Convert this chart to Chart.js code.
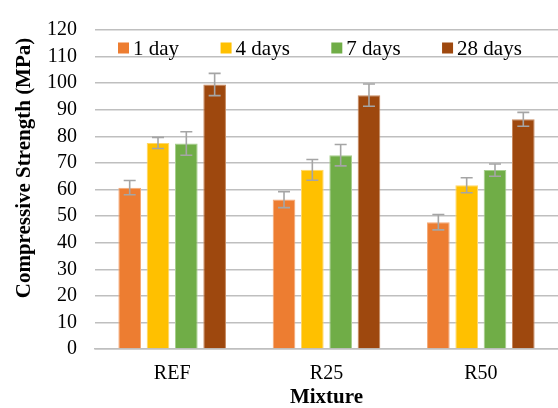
<!DOCTYPE html>
<html>
<head>
<meta charset="utf-8">
<script src="https://cdn.jsdelivr.net/npm/chart.js@4.4.1/dist/chart.umd.min.js"></script>
<style>
  html, body { margin: 0; padding: 0; background: #ffffff; }
  #wrap { width: 558px; height: 408px; }
</style>
</head>
<body>
<div id="wrap"><canvas id="c" width="558" height="408"></canvas></div>
<script>
// Mixtures and curing ages
const mixtures = ['REF', 'R25', 'R50'];
const ages = ['1 day', '4 days', '7 days', '28 days'];

// Mean compressive strength (MPa) per age, one value per mixture
const day1 = [60.7, 56.2, 47.7];
const day4 = [77.5, 67.4, 61.6];
const day7 = [77.3, 72.9, 67.3];
const day28 = [99.5, 95.5, 86.4];

// Standard deviation (MPa) for each mean above
const sd1 = [2.7, 3.0, 2.9];
const sd4 = [2.1, 3.9, 2.8];
const sd7 = [4.4, 4.0, 2.3];
const sd28 = [4.2, 4.2, 2.6];

// Y axis ticks
const yTicks = [0, 10, 20, 30, 40, 50, 60, 70, 80, 90, 100, 110, 120];

const fills = ['#ED7D31', '#FFC000', '#70AD47', '#9E480E'];
const edges = ['#F4A977', '#FFD766', '#A6CE8C', '#C88A60'];
const means = [day1, day4, day7, day28];
const devs = [sd1, sd4, sd7, sd28];

const serif = "'Liberation Serif', 'Times New Roman', serif";

// Error bars with caps, placed through the chart scales
const errorBars = {
  id: 'errorBars',
  afterDatasetsDraw(chart) {
    const ctx = chart.ctx;
    const y = chart.scales.y;
    ctx.save();
    ctx.strokeStyle = '#A5A5A5';
    ctx.lineWidth = 1.6;
    chart.data.datasets.forEach((ds, di) => {
      const meta = chart.getDatasetMeta(di);
      meta.data.forEach((bar, i) => {
        const v = ds.data[i];
        const e = devs[di][i];
        const yt = y.getPixelForValue(v + e);
        const yb = y.getPixelForValue(v - e);
        const x = bar.x;
        const cap = 6;
        ctx.beginPath();
        ctx.moveTo(x, yt); ctx.lineTo(x, yb);
        ctx.moveTo(x - cap, yt); ctx.lineTo(x + cap, yt);
        ctx.moveTo(x - cap, yb); ctx.lineTo(x + cap, yb);
        ctx.stroke();
      });
    });
    ctx.restore();
  }
};

// Legend row inside the top of the plot area
const innerLegend = {
  id: 'innerLegend',
  afterDraw(chart) {
    const ctx = chart.ctx;
    const area = chart.chartArea;
    ctx.save();
    ctx.font = '21px ' + serif;
    ctx.textBaseline = 'middle';
    ctx.textAlign = 'left';
    let x = area.left + 23;
    const yMid = area.top + 18;
    chart.data.datasets.forEach((ds, i) => {
      ctx.fillStyle = ds.backgroundColor;
      ctx.fillRect(x, yMid - 5.5, 11, 11);
      ctx.fillStyle = '#000000';
      ctx.fillText(ds.label, x + 15, yMid + 1);
      x += 15 + ctx.measureText(ds.label).width + 41.5;
    });
    ctx.restore();
  }
};

// Rotated y axis title
const yTitle = {
  id: 'yTitle',
  afterDraw(chart) {
    const ctx = chart.ctx;
    ctx.save();
    ctx.font = 'bold 21px ' + serif;
    ctx.fillStyle = '#000000';
    ctx.textAlign = 'center';
    ctx.textBaseline = 'middle';
    ctx.translate(25, 168);
    ctx.rotate(-Math.PI / 2);
    ctx.fillText('Compressive Strength (MPa)', 0, 0);
    ctx.restore();
  }
};

new Chart(document.getElementById('c'), {
  type: 'bar',
  data: {
    labels: mixtures,
    datasets: ages.map((a, i) => ({
      label: a,
      data: means[i],
      backgroundColor: fills[i],
      borderColor: edges[i],
      borderWidth: 1,
      categoryPercentage: 0.734,
      barPercentage: 0.8
    }))
  },
  options: {
    responsive: false,
    animation: false,
    devicePixelRatio: 1,
    layout: { padding: { top: 21, right: 0, bottom: 0, left: 0 } },
    plugins: {
      legend: { display: false },
      tooltip: { enabled: false },
      title: { display: false }
    },
    scales: {
      x: {
        grid: { display: false, drawTicks: false },
        border: { display: true, color: '#BFBFBF', width: 1.5 },
        ticks: {
          color: '#000000',
          font: { family: serif, size: 20 },
          padding: 13
        },
        title: {
          display: true,
          text: 'Mixture',
          color: '#000000',
          font: { family: serif, size: 21, weight: 'bold', lineHeight: 1 },
          padding: { top: 0, bottom: 0 }
        },
        afterFit(scale) { scale.height = 59; }
      },
      y: {
        min: 0,
        max: 120,
        afterBuildTicks(scale) { scale.ticks = yTicks.map(v => ({ value: v })); },
        grid: { color: '#BFBFBF', lineWidth: 1.5, drawTicks: false },
        border: { display: false },
        ticks: {
          color: '#000000',
          font: { family: serif, size: 20 },
          padding: 18,
          autoSkip: false
        },
        afterFit(scale) { scale.width = 95; }
      }
    }
  },
  plugins: [errorBars, innerLegend, yTitle]
});
</script>
</body>
</html>
